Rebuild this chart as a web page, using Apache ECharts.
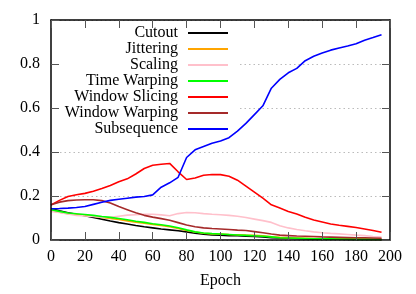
<!DOCTYPE html>
<html><head><meta charset="utf-8">
<script src="https://cdn.jsdelivr.net/npm/echarts@6/dist/echarts.min.js"></script>
<style>html,body{margin:0;padding:0;background:#fff}#c{width:416px;height:294px}</style>
</head><body><div id="c"></div>
<script>
const epochs = [0,5,10,15,20,25,30,35,40,45,50,55,60,65,70,75,80,85,90,95,100,105,110,115,120,125,130,135,140,145,150,155,160,165,170,175,180,185,190,195];
const seriesNames = ['Cutout','Jittering','Scaling','Time Warping','Window Slicing','Window Warping','Subsequence'];
const cutout = [0.143,0.133,0.124,0.117,0.110,0.102,0.094,0.086,0.079,0.073,0.066,0.060,0.055,0.050,0.046,0.042,0.037,0.031,0.026,0.023,0.022,0.020,0.019,0.017,0.016,0.014,0.011,0.009,0.008,0.007,0.006,0.005,0.005,0.004,0.004,0.003,0.003,0.003,0.002,0.002];
const jittering = [0.133,0.126,0.120,0.116,0.113,0.108,0.103,0.098,0.093,0.087,0.081,0.076,0.071,0.066,0.060,0.052,0.043,0.036,0.031,0.028,0.027,0.025,0.024,0.022,0.021,0.019,0.015,0.012,0.010,0.009,0.008,0.007,0.006,0.006,0.005,0.005,0.004,0.004,0.003,0.003];
const scaling = [0.130,0.125,0.118,0.112,0.109,0.107,0.104,0.103,0.108,0.113,0.115,0.117,0.117,0.114,0.110,0.120,0.125,0.124,0.120,0.117,0.115,0.112,0.108,0.102,0.095,0.088,0.080,0.065,0.055,0.048,0.042,0.037,0.033,0.030,0.028,0.025,0.022,0.020,0.016,0.013];
const timeWarping = [0.138,0.130,0.123,0.119,0.116,0.112,0.107,0.103,0.098,0.092,0.085,0.080,0.074,0.069,0.064,0.056,0.046,0.037,0.032,0.029,0.027,0.025,0.023,0.021,0.019,0.017,0.014,0.010,0.009,0.008,0.007,0.006,0.005,0.005,0.004,0.004,0.003,0.003,0.003,0.002];
const windowSlicing = [0.159,0.180,0.198,0.206,0.212,0.222,0.234,0.248,0.265,0.278,0.300,0.325,0.340,0.344,0.348,0.310,0.275,0.282,0.294,0.298,0.297,0.290,0.272,0.245,0.218,0.190,0.160,0.145,0.130,0.118,0.103,0.091,0.082,0.073,0.067,0.062,0.057,0.050,0.043,0.035];
const windowWarping = [0.160,0.172,0.179,0.182,0.183,0.183,0.179,0.168,0.152,0.138,0.124,0.112,0.104,0.097,0.090,0.079,0.068,0.060,0.055,0.052,0.050,0.048,0.045,0.043,0.038,0.033,0.027,0.022,0.020,0.018,0.017,0.016,0.014,0.013,0.012,0.011,0.010,0.010,0.009,0.008];
const subsequence = [0.142,0.143,0.145,0.148,0.152,0.162,0.172,0.180,0.185,0.190,0.195,0.198,0.205,0.240,0.260,0.285,0.375,0.410,0.425,0.440,0.450,0.465,0.495,0.530,0.570,0.610,0.690,0.730,0.760,0.780,0.815,0.835,0.850,0.863,0.873,0.882,0.892,0.908,0.920,0.933];
const colors = ['#000000','#ffa500','#ffc0cb','#00ff00','#ff0000','#a52a2a','#0000ff'];
const xTicks = {min:0, max:200, interval:20};
const yTicks = {min:0, max:1, interval:0.2};

const allData = [cutout, jittering, scaling, timeWarping, windowSlicing, windowWarping, subsequence];
const font = 'Liberation Serif';
const chart = echarts.init(document.getElementById('c'), null, {renderer:'canvas'});
const tickStyle = {show:true, inside:true, length:8, lineStyle:{color:'#555', width:1}};
const axisLine = {show:true, onZero:false, lineStyle:{color:'#000', width:1.5}};
chart.setOption({
  animation:false,
  backgroundColor:'#fff',
  color: colors,
  grid:{left:51, right:26, top:20, bottom:54},
  legend:{
    z:1,
    left:48, top:23, orient:'vertical', align:'right',
    padding:[2,9,0,2], itemGap:0, itemWidth:40, itemHeight:2, icon:'rect',
    backgroundColor:'#fff',
    textStyle:{fontFamily:font, fontSize:16, color:'#000', width:128, align:'right', lineHeight:16, padding:[0,5,0,0]},
    data: seriesNames
  },
  xAxis:[
    {type:'value', z:3, min:xTicks.min, max:xTicks.max, interval:xTicks.interval, position:'bottom',
     name:'Epoch', nameLocation:'middle', nameGap:33,
     nameTextStyle:{fontFamily:font, fontSize:16, color:'#000'},
     axisLine:axisLine, axisTick:tickStyle,
     axisLabel:{fontFamily:font, fontSize:16, color:'#000', margin:9},
     splitLine:{show:false}},
    {type:'value', z:3, min:xTicks.min, max:xTicks.max, interval:xTicks.interval, position:'top',
     axisLine:axisLine, axisTick:tickStyle, axisLabel:{show:false}, splitLine:{show:false}}
  ],
  yAxis:[
    {type:'value', z:3, min:yTicks.min, max:yTicks.max, interval:yTicks.interval, position:'left',
     axisLine:axisLine, axisTick:tickStyle,
     axisLabel:{fontFamily:font, fontSize:16, color:'#000', margin:11,
       formatter: v => String(Math.round(v*10)/10)},
     splitLine:{show:false}},
    {type:'value', z:3, min:yTicks.min, max:yTicks.max, interval:yTicks.interval, position:'right',
     axisLine:axisLine, axisTick:tickStyle, axisLabel:{show:false}, splitLine:{show:false}},
    {type:'value', z:0, min:yTicks.min, max:yTicks.max, interval:yTicks.interval, position:'left',
     axisLine:{show:false}, axisTick:{show:false}, axisLabel:{show:false},
     splitLine:{show:true, lineStyle:{color:'#bbb', type:[1.5,3], width:1}}}
  ],
  series: seriesNames.map((n,i)=>({
    name:n, type:'line', xAxisIndex:0, yAxisIndex:0, z:2,
    showSymbol:false, symbol:'none',
    lineStyle:{width:1.6, color:colors[i]},
    itemStyle:{color:colors[i]},
    data: epochs.map((e,j)=>[e, allData[i][j]])
  }))
});
</script></body></html>
